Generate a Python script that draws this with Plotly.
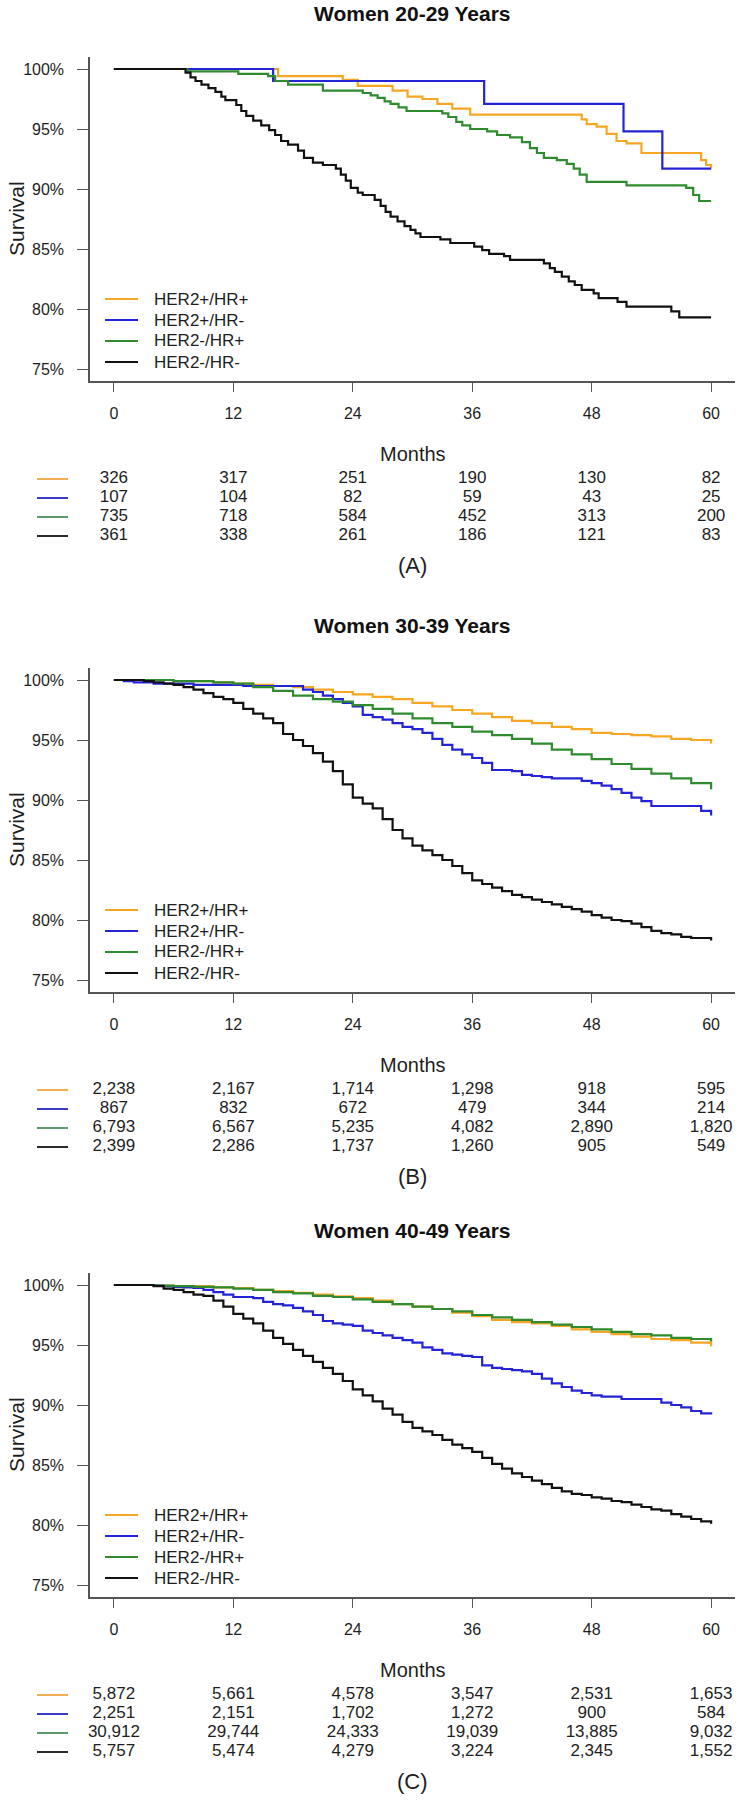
import plotly.graph_objects as go

W, H = 745, 1800

# ---------------- data ----------------
month_ticks = [0, 12, 24, 36, 48, 60]
survival_ticks = [75, 80, 85, 90, 95, 100]
survival_ticktext = ["75%", "80%", "85%", "90%", "95%", "100%"]
groups = ["HER2+/HR+", "HER2+/HR-", "HER2-/HR+", "HER2-/HR-"]
colors = ["#F5A623", "#2424D6", "#2E8B2E", "#111111"]
key_colors = ["#F2AE55", "#3A3AC4", "#5E9A6C", "#2A2A2A"]
titles = ["Women 20-29 Years", "Women 30-39 Years", "Women 40-49 Years"]
tags = ["(A)", "(B)", "(C)"]

# Panel A (20-29) step curves: event times (months) and survival (%)
a_t_her2p_hrp = [0, 16.5, 23, 24.5, 28, 29.5, 31, 32.5, 34, 35.8, 47, 47.5, 48.5, 49.5, 50.5, 51.5, 53, 59, 59.5, 60]
a_s_her2p_hrp = [100, 99.4, 99.1, 98.6, 98.2, 97.7, 97.5, 97.1, 96.7, 96.2, 95.8, 95.4, 95.2, 94.6, 94.0, 93.8, 93.0, 92.4, 92.0, 91.7]
a_t_her2p_hrn = [0, 16, 37.2, 51.2, 55.1, 60]
a_s_her2p_hrn = [100, 99.0, 97.1, 94.8, 91.7, 91.7]
a_t_her2n_hrp = [0, 7.4, 12.5, 15.5, 16.2, 17.5, 21, 25, 25.8, 26.5, 27.2, 27.8, 28.6, 29.4, 33, 33.6, 34.4, 35,
                 35.8, 37.5, 38.5, 39.8, 41, 41.8, 42.5, 43.2, 44.5, 45.5, 46.2, 46.8, 47.5, 51.5, 57.5, 58.2, 58.8, 60]
a_s_her2n_hrp = [100, 99.8, 99.6, 99.4, 99.0, 98.7, 98.2, 98.0, 97.8, 97.6, 97.3, 97.1, 96.8, 96.5, 96.3, 96.0, 95.6, 95.3,
                 95.0, 94.8, 94.5, 94.3, 93.9, 93.4, 93.0, 92.6, 92.4, 92.1, 91.7, 91.2, 90.6, 90.3, 90.1, 89.5, 89.0, 89.0]
a_t_her2n_hrn = [0, 7.2, 7.7, 8.2, 8.8, 9.5, 10.2, 10.8, 11.2, 12.3, 12.8, 13.3, 14, 14.8, 15.6, 16.2, 16.8, 17.5, 18.5,
                 19.1, 20, 21, 22.3, 22.8, 23.3, 23.8, 24.5, 25, 26.2, 26.8, 27.3, 27.8, 28.5, 29.2, 29.8, 30.3, 30.8,
                 32.8, 33.8, 36.2, 37, 37.7, 39.2, 39.8, 43.2, 43.8, 44.3, 45, 45.7, 46.3, 47, 48.2, 48.7, 50.6, 51.5,
                 56, 56.8, 60]
a_s_her2n_hrn = [100, 99.7, 99.3, 99.0, 98.7, 98.4, 98.1, 97.7, 97.4, 97.0, 96.5, 96.1, 95.7, 95.3, 94.9, 94.5, 94.0,
                 93.7, 93.2, 92.6, 92.2, 92.0, 91.7, 91.2, 90.7, 90.1, 89.7, 89.5, 89.1, 88.6, 88.1, 87.7, 87.3, 86.9,
                 86.6, 86.3, 86.0, 85.8, 85.5, 85.2, 84.9, 84.6, 84.4, 84.1, 83.8, 83.4, 83.1, 82.7, 82.3, 82.0, 81.6,
                 81.3, 80.9, 80.6, 80.2, 79.8, 79.3, 79.3]

months_1 = list(range(0, 61))      # monthly read-out grid
months_2 = list(range(0, 61, 2))   # two-monthly read-out grid

# Panel B (30-39)
b_s_her2p_hrp = [100, 100, 100, 99.9, 99.9, 99.8, 99.7, 99.6, 99.5, 99.4,
                 99.2, 99.0, 98.8, 98.6, 98.4, 98.1, 97.8, 97.5, 97.2, 96.9,
                 96.6, 96.4, 96.1, 95.9, 95.6, 95.5, 95.4, 95.3, 95.1, 95.0, 94.7]
b_s_her2p_hrn = [100, 99.9, 99.8, 99.8, 99.7, 99.7, 99.7, 99.7, 99.6, 99.6,
                 99.6, 99.6, 99.6, 99.5, 99.5, 99.5, 99.5, 99.5, 99.5, 99.2,
                 99.0, 98.7, 98.4, 98.1, 97.8, 97.1, 96.9, 96.7, 96.4, 96.1,
                 95.9, 95.6, 95.1, 94.6, 94.2, 93.8, 93.5, 93.1, 92.5, 92.5,
                 92.4, 92.1, 92.0, 91.9, 91.8, 91.8, 91.8, 91.6, 91.4, 91.2,
                 90.9, 90.6, 90.2, 89.9, 89.5, 89.5, 89.5, 89.5, 89.5, 89.1, 88.7]
b_s_her2n_hrp = [100, 100, 100, 99.9, 99.9, 99.8, 99.7, 99.4, 99.1, 98.7,
                 98.4, 98.2, 97.9, 97.6, 97.2, 96.8, 96.4, 96.1, 95.7, 95.4,
                 95.1, 94.7, 94.2, 93.8, 93.4, 93.0, 92.6, 92.2, 91.8, 91.4, 90.9]
b_s_her2n_hrn = [100, 100, 100, 99.9, 99.8, 99.7, 99.6, 99.4, 99.2, 98.9,
                 98.6, 98.4, 98.1, 97.6, 97.2, 96.8, 96.4, 95.5, 95.0, 94.5,
                 93.9, 93.2, 92.4, 91.3, 90.2, 89.7, 89.3, 88.4, 87.5, 86.8,
                 86.2, 85.8, 85.4, 85.0, 84.5, 83.9, 83.3, 83.0, 82.7, 82.4,
                 82.1, 81.9, 81.7, 81.5, 81.3, 81.1, 80.9, 80.7, 80.4, 80.2,
                 80.0, 79.9, 79.7, 79.4, 79.1, 78.9, 78.8, 78.6, 78.5, 78.5, 78.3]

# Panel C (40-49)
c_s_her2p_hrp = [100, 100, 99.95, 99.9, 99.9, 99.8, 99.75, 99.6, 99.5, 99.35,
                 99.2, 99.05, 98.9, 98.7, 98.4, 98.2, 98.0, 97.7, 97.4, 97.1,
                 96.9, 96.8, 96.6, 96.3, 96.1, 95.9, 95.7, 95.5, 95.4, 95.2, 94.9]
c_s_her2p_hrn = [100, 100, 100, 100, 99.95, 99.9, 99.85, 99.8, 99.75, 99.6,
                 99.4, 99.2, 99.0, 99.0, 98.9, 98.6, 98.4, 98.3, 98.1, 97.8,
                 97.5, 97.0, 96.8, 96.7, 96.6, 96.2, 96.0, 95.8, 95.6, 95.4,
                 95.2, 94.8, 94.6, 94.3, 94.2, 94.1, 94.0, 93.3, 93.1, 93.0,
                 92.9, 92.8, 92.6, 92.2, 91.8, 91.5, 91.2, 91.0, 90.8, 90.7,
                 90.7, 90.5, 90.5, 90.5, 90.5, 90.2, 90.0, 89.8, 89.5, 89.3, 89.2]
c_s_her2n_hrp = [100, 100, 99.95, 99.9, 99.85, 99.8, 99.7, 99.6, 99.4, 99.3,
                 99.1, 99.0, 98.8, 98.6, 98.4, 98.2, 98.0, 97.8, 97.5, 97.3,
                 97.1, 96.9, 96.7, 96.5, 96.3, 96.1, 95.9, 95.8, 95.6, 95.5, 95.3]
c_s_her2n_hrn = [100, 100, 100, 100, 99.9, 99.7, 99.6, 99.4, 99.2, 99.1,
                 98.7, 98.2, 97.6, 97.2, 96.8, 96.2, 95.6, 95.1, 94.6, 94.1,
                 93.6, 93.1, 92.6, 92.0, 91.3, 90.8, 90.3, 89.7, 89.2, 88.6,
                 88.1, 87.8, 87.5, 87.1, 86.7, 86.4, 86.1, 85.6, 85.1, 84.7,
                 84.3, 84.0, 83.7, 83.4, 83.1, 82.8, 82.6, 82.5, 82.3, 82.2,
                 82.0, 81.9, 81.7, 81.5, 81.3, 81.2, 80.9, 80.7, 80.5, 80.3, 80.1]

# Numbers at risk
a_risk_her2p_hrp = [326, 317, 251, 190, 130, 82]
a_risk_her2p_hrn = [107, 104, 82, 59, 43, 25]
a_risk_her2n_hrp = [735, 718, 584, 452, 313, 200]
a_risk_her2n_hrn = [361, 338, 261, 186, 121, 83]
b_risk_her2p_hrp = [2238, 2167, 1714, 1298, 918, 595]
b_risk_her2p_hrn = [867, 832, 672, 479, 344, 214]
b_risk_her2n_hrp = [6793, 6567, 5235, 4082, 2890, 1820]
b_risk_her2n_hrn = [2399, 2286, 1737, 1260, 905, 549]
c_risk_her2p_hrp = [5872, 5661, 4578, 3547, 2531, 1653]
c_risk_her2p_hrn = [2251, 2151, 1702, 1272, 900, 584]
c_risk_her2n_hrp = [30912, 29744, 24333, 19039, 13885, 9032]
c_risk_her2n_hrn = [5757, 5474, 4279, 3224, 2345, 1552]

panels = [
    {"curves": [(a_t_her2p_hrp, a_s_her2p_hrp), (a_t_her2p_hrn, a_s_her2p_hrn),
                (a_t_her2n_hrp, a_s_her2n_hrp), (a_t_her2n_hrn, a_s_her2n_hrn)],
     "risk": [a_risk_her2p_hrp, a_risk_her2p_hrn, a_risk_her2n_hrp, a_risk_her2n_hrn]},
    {"curves": [(months_2, b_s_her2p_hrp), (months_1, b_s_her2p_hrn),
                (months_2, b_s_her2n_hrp), (months_1, b_s_her2n_hrn)],
     "risk": [b_risk_her2p_hrp, b_risk_her2p_hrn, b_risk_her2n_hrp, b_risk_her2n_hrn]},
    {"curves": [(months_2, c_s_her2p_hrp), (months_1, c_s_her2p_hrn),
                (months_2, c_s_her2n_hrp), (months_1, c_s_her2n_hrn)],
     "risk": [c_risk_her2p_hrp, c_risk_her2p_hrn, c_risk_her2n_hrp, c_risk_her2n_hrn]},
]

# ---------------- layout (page-pixel geometry) ----------------
FONT = "Liberation Sans, Arial, sans-serif"
TXT = "#1E1E1E"
AX = "#555555"
axis_bottom = [381, 992, 1597]
PLOT_H = 324
X_L, X_R = 90, 735


def py(p):
    return 1 - p / H


def pxx(p):
    return p / W


fig = go.Figure()
layout = dict(width=W, height=H, margin=dict(l=0, r=0, t=0, b=0), autosize=False,
              paper_bgcolor="white", plot_bgcolor="white", showlegend=False,
              font=dict(family=FONT, color=TXT))
shapes, annotations = [], []

for k, pan in enumerate(panels):
    ci = 2 * k + 1
    ri = 2 * k + 2
    yb = axis_bottom[k]
    yt = yb - PLOT_H
    y100 = yt + 12
    xs = "x" if ci == 1 else f"x{ci}"
    ys = "y" if ci == 1 else f"y{ci}"

    for g, (t, s) in enumerate(pan["curves"]):
        fig.add_trace(go.Scatter(x=t, y=s, mode="lines", name=groups[g],
                                 line=dict(shape="hv", color=colors[g], width=2.2),
                                 xaxis=xs, yaxis=ys, hoverinfo="skip"))

    # numbers-at-risk table as a text trace on its own axes
    rx, ry, rt = [], [], []
    for g, row in enumerate(pan["risk"]):
        for m, v in zip(month_ticks, row):
            rx.append(m)
            ry.append(g)
            rt.append(f"{v:,}")
    fig.add_trace(go.Scatter(x=rx, y=ry, text=rt, mode="text", cliponaxis=False,
                             textfont=dict(size=17, color=TXT, family=FONT),
                             xaxis=f"x{ri}", yaxis=f"y{ri}", hoverinfo="skip"))

    layout[f"xaxis{'' if ci == 1 else ci}"] = dict(
        domain=[pxx(X_L), pxx(X_R)], range=[-2.4, 62.4], anchor=ys,
        tickvals=month_ticks, ticks="outside", ticklen=9, tickcolor=AX, tickwidth=1.3,
        showline=True, linecolor=AX, linewidth=1.5, showgrid=False, zeroline=False,
        tickfont=dict(size=16, color=TXT), ticklabelstandoff=8, fixedrange=True)
    layout[f"yaxis{'' if ci == 1 else ci}"] = dict(
        domain=[py(yb), py(yt)], range=[74, 101], anchor=xs,
        tickvals=survival_ticks, ticktext=survival_ticktext, ticks="outside", ticklen=11,
        tickcolor=AX, tickwidth=1.3, showline=True, linecolor=AX, linewidth=1.5,
        showgrid=False, zeroline=False, tickfont=dict(size=16, color=TXT),
        ticklabelstandoff=10, fixedrange=True)
    layout[f"xaxis{ri}"] = dict(domain=[pxx(X_L), pxx(X_R)], range=[-2.4, 62.4],
                                anchor=f"y{ri}", visible=False, fixedrange=True)
    r0, r3 = yb + 98, yb + 155
    step = (r3 - r0) / 3
    layout[f"yaxis{ri}"] = dict(domain=[py(r3 + step / 2), py(r0 - step / 2)], range=[3.5, -0.5],
                                anchor=f"x{ri}", visible=False, fixedrange=True)

    # risk table colour keys
    for g in range(4):
        shapes.append(dict(type="line", xref="paper", yref=f"y{ri}", x0=pxx(37), x1=pxx(68),
                           y0=g, y1=g, line=dict(color=key_colors[g], width=2)))

    # in-plot legend
    for g, off in enumerate([230, 251, 272, 293]):
        yy = py(y100 + off)
        shapes.append(dict(type="line", xref="paper", yref="paper", x0=pxx(105), x1=pxx(138),
                           y0=yy, y1=yy, line=dict(color=colors[g], width=2.2)))
        annotations.append(dict(text=groups[g], xref="paper", yref="paper", x=pxx(152), y=yy,
                                xanchor="left", yanchor="middle", showarrow=False,
                                font=dict(size=17, color=TXT)))

    annotations.append(dict(text=f"<b>{titles[k]}</b>", xref="paper", yref="paper",
                            x=pxx((X_L + X_R) / 2), y=py(yt - 43), xanchor="center", yanchor="middle",
                            showarrow=False, font=dict(size=21, color="#111")))
    annotations.append(dict(text="Survival", xref="paper", yref="paper", x=pxx(16),
                            y=py((yt + yb) / 2), xanchor="center", yanchor="middle", textangle=-90,
                            showarrow=False, font=dict(size=21, color=TXT)))
    annotations.append(dict(text="Months", xref="paper", yref="paper", x=pxx((X_L + X_R) / 2),
                            y=py(yb + 73), xanchor="center", yanchor="middle", showarrow=False,
                            font=dict(size=20, color=TXT)))
    annotations.append(dict(text=tags[k], xref="paper", yref="paper", x=pxx((X_L + X_R) / 2),
                            y=py(yb + 184), xanchor="center", yanchor="middle", showarrow=False,
                            font=dict(size=22, color=TXT)))

layout["shapes"] = shapes
layout["annotations"] = annotations
fig.update_layout(**layout)
fig.write_html("out.html", config={"displayModeBar": False},
               post_script="document.body.style.margin='0px';")
